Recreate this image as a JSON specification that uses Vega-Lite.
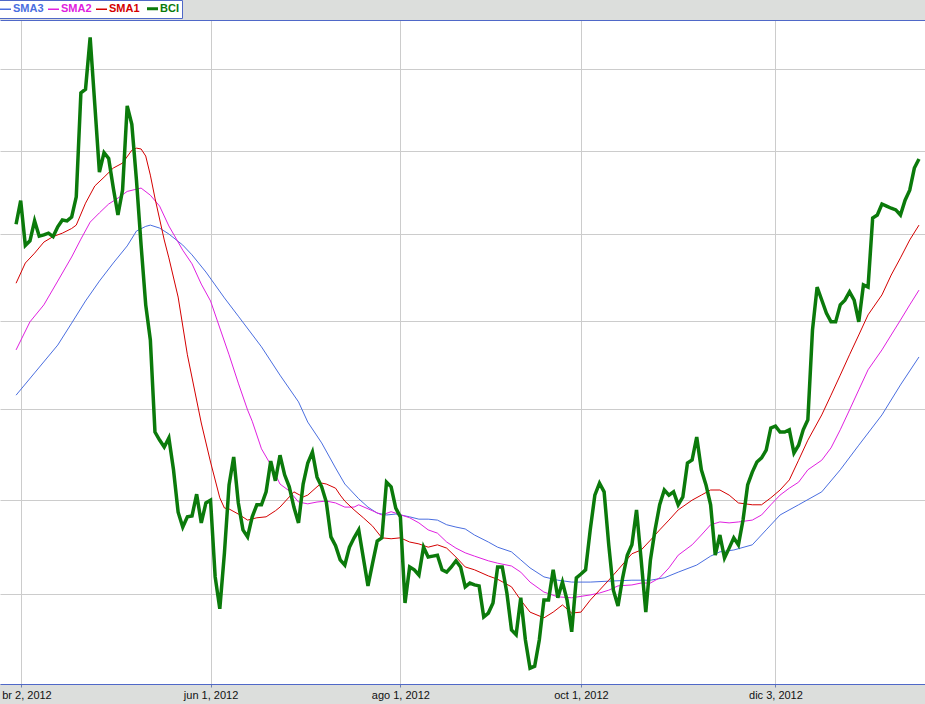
{
  "$schema": "https://vega.github.io/schema/vega-lite/v6.json",
  "width": 925,
  "height": 664,
  "autosize": {"type": "none"},
  "padding": {"left": 0, "right": 0, "top": 20, "bottom": 20},
  "background": "#dcdedc",
  "config": {"view": {"fill": "white", "stroke": null}},
  "data": {
    "values": [
      {"series":"SMA3","day":-1,"price":35155},{"series":"SMA3","day":3,"price":35405},{"series":"SMA3","day":8,"price":35720},{"series":"SMA3","day":11,"price":35970},{"series":"SMA3","day":14,"price":36225},{"series":"SMA3","day":17,"price":36455},{"series":"SMA3","day":20,"price":36665},{"series":"SMA3","day":23,"price":36865},{"series":"SMA3","day":25,"price":37040},{"series":"SMA3","day":27,"price":37095},{"series":"SMA3","day":28,"price":37110},{"series":"SMA3","day":30,"price":37075},{"series":"SMA3","day":32,"price":37005},{"series":"SMA3","day":35,"price":36875},{"series":"SMA3","day":37,"price":36760},{"series":"SMA3","day":40,"price":36560},{"series":"SMA3","day":42,"price":36410},{"series":"SMA3","day":44,"price":36260},{"series":"SMA3","day":47,"price":36050},{"series":"SMA3","day":52,"price":35700},{"series":"SMA3","day":56,"price":35380},{"series":"SMA3","day":60,"price":35080},{"series":"SMA3","day":62,"price":34855},{"series":"SMA3","day":65,"price":34625},{"series":"SMA3","day":68,"price":34350},{"series":"SMA3","day":70,"price":34175},{"series":"SMA3","day":73,"price":34015},{"series":"SMA3","day":75,"price":33925},{"series":"SMA3","day":77,"price":33860},{"series":"SMA3","day":79,"price":33840},{"series":"SMA3","day":81,"price":33850},{"series":"SMA3","day":84,"price":33820},{"series":"SMA3","day":86,"price":33795},{"series":"SMA3","day":88,"price":33795},{"series":"SMA3","day":90,"price":33785},{"series":"SMA3","day":92,"price":33735},{"series":"SMA3","day":94,"price":33710},{"series":"SMA3","day":96,"price":33690},{"series":"SMA3","day":98,"price":33625},{"series":"SMA3","day":101,"price":33550},{"series":"SMA3","day":103,"price":33495},{"series":"SMA3","day":106,"price":33445},{"series":"SMA3","day":108,"price":33360},{"series":"SMA3","day":110,"price":33275},{"series":"SMA3","day":113,"price":33180},{"series":"SMA3","day":116,"price":33145},{"series":"SMA3","day":119,"price":33125},{"series":"SMA3","day":123,"price":33125},{"series":"SMA3","day":127,"price":33135},{"series":"SMA3","day":132,"price":33145},{"series":"SMA3","day":136,"price":33145},{"series":"SMA3","day":139,"price":33170},{"series":"SMA3","day":142,"price":33230},{"series":"SMA3","day":146,"price":33305},{"series":"SMA3","day":149,"price":33400},{"series":"SMA3","day":151,"price":33445},{"series":"SMA3","day":154,"price":33465},{"series":"SMA3","day":158,"price":33520},{"series":"SMA3","day":161,"price":33680},{"series":"SMA3","day":164,"price":33840},{"series":"SMA3","day":168,"price":33950},{"series":"SMA3","day":173,"price":34090},{"series":"SMA3","day":177,"price":34330},{"series":"SMA3","day":181,"price":34600},{"series":"SMA3","day":186,"price":34935},{"series":"SMA3","day":190,"price":35270},{"series":"SMA3","day":194,"price":35585},

      {"series":"SMA2","day":-1,"price":35665},{"series":"SMA2","day":2,"price":35985},{"series":"SMA2","day":5,"price":36180},{"series":"SMA2","day":8,"price":36455},{"series":"SMA2","day":11,"price":36735},{"series":"SMA2","day":13,"price":36945},{"series":"SMA2","day":15,"price":37145},{"series":"SMA2","day":17,"price":37255},{"series":"SMA2","day":19,"price":37360},{"series":"SMA2","day":21,"price":37430},{"series":"SMA2","day":23,"price":37510},{"series":"SMA2","day":26,"price":37550},{"series":"SMA2","day":28,"price":37465},{"series":"SMA2","day":30,"price":37335},{"series":"SMA2","day":32,"price":37100},{"series":"SMA2","day":35,"price":36815},{"series":"SMA2","day":37,"price":36655},{"series":"SMA2","day":39,"price":36420},{"series":"SMA2","day":41,"price":36225},{"series":"SMA2","day":43,"price":35915},{"series":"SMA2","day":45,"price":35610},{"series":"SMA2","day":47,"price":35290},{"series":"SMA2","day":49,"price":34990},{"series":"SMA2","day":50,"price":34865},{"series":"SMA2","day":52,"price":34560},{"series":"SMA2","day":54,"price":34385},{"series":"SMA2","day":56,"price":34175},{"series":"SMA2","day":58,"price":34100},{"series":"SMA2","day":60,"price":33980},{"series":"SMA2","day":62,"price":33960},{"series":"SMA2","day":64,"price":33980},{"series":"SMA2","day":66,"price":33990},{"series":"SMA2","day":68,"price":33970},{"series":"SMA2","day":70,"price":33925},{"series":"SMA2","day":72,"price":33925},{"series":"SMA2","day":73,"price":33950},{"series":"SMA2","day":76,"price":33885},{"series":"SMA2","day":78,"price":33840},{"series":"SMA2","day":80,"price":33875},{"series":"SMA2","day":81,"price":33860},{"series":"SMA2","day":84,"price":33810},{"series":"SMA2","day":86,"price":33755},{"series":"SMA2","day":88,"price":33680},{"series":"SMA2","day":90,"price":33645},{"series":"SMA2","day":92,"price":33550},{"series":"SMA2","day":94,"price":33485},{"series":"SMA2","day":96,"price":33435},{"series":"SMA2","day":98,"price":33400},{"series":"SMA2","day":101,"price":33350},{"series":"SMA2","day":103,"price":33325},{"series":"SMA2","day":106,"price":33295},{"series":"SMA2","day":108,"price":33230},{"series":"SMA2","day":110,"price":33125},{"series":"SMA2","day":113,"price":33020},{"series":"SMA2","day":116,"price":32970},{"series":"SMA2","day":119,"price":32960},{"series":"SMA2","day":123,"price":32990},{"series":"SMA2","day":125,"price":33010},{"series":"SMA2","day":127,"price":33040},{"series":"SMA2","day":129,"price":33085},{"series":"SMA2","day":132,"price":33095},{"series":"SMA2","day":134,"price":33115},{"series":"SMA2","day":136,"price":33115},{"series":"SMA2","day":138,"price":33170},{"series":"SMA2","day":140,"price":33275},{"series":"SMA2","day":142,"price":33410},{"series":"SMA2","day":145,"price":33520},{"series":"SMA2","day":147,"price":33625},{"series":"SMA2","day":149,"price":33735},{"series":"SMA2","day":151,"price":33765},{"series":"SMA2","day":153,"price":33755},{"series":"SMA2","day":155,"price":33765},{"series":"SMA2","day":158,"price":33785},{"series":"SMA2","day":160,"price":33840},{"series":"SMA2","day":162,"price":33950},{"series":"SMA2","day":164,"price":34055},{"series":"SMA2","day":166,"price":34130},{"series":"SMA2","day":168,"price":34195},{"series":"SMA2","day":170,"price":34330},{"series":"SMA2","day":173,"price":34435},{"series":"SMA2","day":175,"price":34570},{"series":"SMA2","day":177,"price":34770},{"series":"SMA2","day":179,"price":34990},{"series":"SMA2","day":181,"price":35215},{"series":"SMA2","day":183,"price":35440},{"series":"SMA2","day":186,"price":35665},{"series":"SMA2","day":188,"price":35835},{"series":"SMA2","day":190,"price":36005},{"series":"SMA2","day":192,"price":36180},{"series":"SMA2","day":194,"price":36350},

      {"series":"SMA1","day":-1,"price":36430},{"series":"SMA1","day":1,"price":36665},{"series":"SMA1","day":3,"price":36780},{"series":"SMA1","day":5,"price":36910},{"series":"SMA1","day":7,"price":36975},{"series":"SMA1","day":9,"price":37015},{"series":"SMA1","day":11,"price":37070},{"series":"SMA1","day":12,"price":37110},{"series":"SMA1","day":14,"price":37370},{"series":"SMA1","day":16,"price":37575},{"series":"SMA1","day":18,"price":37680},{"series":"SMA1","day":20,"price":37790},{"series":"SMA1","day":22,"price":37850},{"series":"SMA1","day":24,"price":38005},{"series":"SMA1","day":25,"price":38030},{"series":"SMA1","day":26,"price":38020},{"series":"SMA1","day":27,"price":37935},{"series":"SMA1","day":28,"price":37705},{"series":"SMA1","day":29,"price":37430},{"series":"SMA1","day":31,"price":36935},{"series":"SMA1","day":32,"price":36725},{"series":"SMA1","day":34,"price":36270},{"series":"SMA1","day":36,"price":35610},{"series":"SMA1","day":39,"price":34845},{"series":"SMA1","day":41,"price":34415},{"series":"SMA1","day":43,"price":34025},{"series":"SMA1","day":44,"price":33915},{"series":"SMA1","day":45,"price":33905},{"series":"SMA1","day":47,"price":33850},{"series":"SMA1","day":49,"price":33785},{"series":"SMA1","day":51,"price":33810},{"series":"SMA1","day":53,"price":33820},{"series":"SMA1","day":55,"price":33885},{"series":"SMA1","day":56,"price":33925},{"series":"SMA1","day":58,"price":34035},{"series":"SMA1","day":59,"price":34090},{"series":"SMA1","day":61,"price":34035},{"series":"SMA1","day":62,"price":34055},{"series":"SMA1","day":64,"price":34145},{"series":"SMA1","day":65,"price":34185},{"series":"SMA1","day":66,"price":34175},{"series":"SMA1","day":68,"price":34130},{"series":"SMA1","day":69,"price":34055},{"series":"SMA1","day":70,"price":33990},{"series":"SMA1","day":72,"price":33895},{"series":"SMA1","day":74,"price":33810},{"series":"SMA1","day":76,"price":33720},{"series":"SMA1","day":78,"price":33595},{"series":"SMA1","day":80,"price":33585},{"series":"SMA1","day":82,"price":33595},{"series":"SMA1","day":84,"price":33550},{"series":"SMA1","day":86,"price":33530},{"series":"SMA1","day":88,"price":33495},{"series":"SMA1","day":90,"price":33520},{"series":"SMA1","day":92,"price":33485},{"series":"SMA1","day":94,"price":33390},{"series":"SMA1","day":96,"price":33285},{"series":"SMA1","day":98,"price":33255},{"series":"SMA1","day":101,"price":33190},{"series":"SMA1","day":103,"price":33155},{"series":"SMA1","day":106,"price":33075},{"series":"SMA1","day":108,"price":32935},{"series":"SMA1","day":110,"price":32810},{"series":"SMA1","day":113,"price":32750},{"series":"SMA1","day":115,"price":32810},{"series":"SMA1","day":117,"price":32885},{"series":"SMA1","day":119,"price":32800},{"series":"SMA1","day":121,"price":32810},{"series":"SMA1","day":123,"price":32935},{"series":"SMA1","day":125,"price":33040},{"series":"SMA1","day":127,"price":33145},{"series":"SMA1","day":129,"price":33255},{"series":"SMA1","day":132,"price":33425},{"series":"SMA1","day":134,"price":33465},{"series":"SMA1","day":136,"price":33570},{"series":"SMA1","day":138,"price":33680},{"series":"SMA1","day":140,"price":33785},{"series":"SMA1","day":142,"price":33895},{"series":"SMA1","day":145,"price":34000},{"series":"SMA1","day":147,"price":34055},{"series":"SMA1","day":149,"price":34110},{"series":"SMA1","day":151,"price":34110},{"series":"SMA1","day":153,"price":34055},{"series":"SMA1","day":155,"price":33970},{"series":"SMA1","day":158,"price":33950},{"series":"SMA1","day":160,"price":33950},{"series":"SMA1","day":162,"price":34025},{"series":"SMA1","day":164,"price":34110},{"series":"SMA1","day":166,"price":34220},{"series":"SMA1","day":168,"price":34435},{"series":"SMA1","day":170,"price":34655},{"series":"SMA1","day":173,"price":34935},{"series":"SMA1","day":175,"price":35155},{"series":"SMA1","day":177,"price":35380},{"series":"SMA1","day":179,"price":35610},{"series":"SMA1","day":181,"price":35835},{"series":"SMA1","day":183,"price":36065},{"series":"SMA1","day":186,"price":36295},{"series":"SMA1","day":188,"price":36525},{"series":"SMA1","day":190,"price":36725},{"series":"SMA1","day":192,"price":36935},{"series":"SMA1","day":194,"price":37110},

      {"series":"BCI","day":-1,"price":37120},{"series":"BCI","day":0,"price":37400},{"series":"BCI","day":1,"price":36870},{"series":"BCI","day":2,"price":36925},{"series":"BCI","day":3,"price":37160},{"series":"BCI","day":4,"price":36980},{"series":"BCI","day":5,"price":36995},{"series":"BCI","day":6,"price":37015},{"series":"BCI","day":7,"price":36975},{"series":"BCI","day":8,"price":37090},{"series":"BCI","day":9,"price":37170},{"series":"BCI","day":10,"price":37160},{"series":"BCI","day":11,"price":37205},{"series":"BCI","day":12,"price":37445},{"series":"BCI","day":13,"price":38705},{"series":"BCI","day":14,"price":38750},{"series":"BCI","day":15,"price":39395},{"series":"BCI","day":16,"price":38565},{"series":"BCI","day":17,"price":37740},{"series":"BCI","day":18,"price":37975},{"series":"BCI","day":19,"price":37905},{"series":"BCI","day":20,"price":37550},{"series":"BCI","day":21,"price":37230},{"series":"BCI","day":22,"price":37525},{"series":"BCI","day":23,"price":38545},{"series":"BCI","day":24,"price":38320},{"series":"BCI","day":25,"price":37646},{"series":"BCI","day":26,"price":36875},{"series":"BCI","day":27,"price":36180},{"series":"BCI","day":28,"price":35778},{"series":"BCI","day":29,"price":34745},{"series":"BCI","day":30,"price":34657},{"series":"BCI","day":31,"price":34580},{"series":"BCI","day":32,"price":34680},{"series":"BCI","day":33,"price":34330},{"series":"BCI","day":34,"price":33870},{"series":"BCI","day":35,"price":33710},{"series":"BCI","day":36,"price":33820},{"series":"BCI","day":37,"price":33830},{"series":"BCI","day":38,"price":34065},{"series":"BCI","day":39,"price":33755},{"series":"BCI","day":40,"price":33970},{"series":"BCI","day":41,"price":34000},{"series":"BCI","day":42,"price":33180},{"series":"BCI","day":43,"price":32845},{"series":"BCI","day":44,"price":33435},{"series":"BCI","day":45,"price":34165},{"series":"BCI","day":46,"price":34470},{"series":"BCI","day":47,"price":33970},{"series":"BCI","day":48,"price":33680},{"series":"BCI","day":49,"price":33605},{"series":"BCI","day":50,"price":33820},{"series":"BCI","day":51,"price":33950},{"series":"BCI","day":52,"price":33950},{"series":"BCI","day":53,"price":34090},{"series":"BCI","day":54,"price":34425},{"series":"BCI","day":55,"price":34210},{"series":"BCI","day":56,"price":34490},{"series":"BCI","day":57,"price":34275},{"series":"BCI","day":58,"price":34145},{"series":"BCI","day":59,"price":33925},{"series":"BCI","day":60,"price":33755},{"series":"BCI","day":61,"price":34175},{"series":"BCI","day":62,"price":34405},{"series":"BCI","day":63,"price":34525},{"series":"BCI","day":64,"price":34250},{"series":"BCI","day":65,"price":34145},{"series":"BCI","day":66,"price":33980},{"series":"BCI","day":67,"price":33605},{"series":"BCI","day":68,"price":33510},{"series":"BCI","day":69,"price":33360},{"series":"BCI","day":70,"price":33305},{"series":"BCI","day":71,"price":33495},{"series":"BCI","day":72,"price":33595},{"series":"BCI","day":73,"price":33680},{"series":"BCI","day":74,"price":33380},{"series":"BCI","day":75,"price":33085},{"series":"BCI","day":76,"price":33325},{"series":"BCI","day":77,"price":33560},{"series":"BCI","day":78,"price":33595},{"series":"BCI","day":79,"price":34195},{"series":"BCI","day":80,"price":34145},{"series":"BCI","day":81,"price":33915},{"series":"BCI","day":82,"price":33820},{"series":"BCI","day":83,"price":32905},{"series":"BCI","day":84,"price":33285},{"series":"BCI","day":85,"price":33255},{"series":"BCI","day":86,"price":33200},{"series":"BCI","day":87,"price":33495},{"series":"BCI","day":88,"price":33390},{"series":"BCI","day":89,"price":33400},{"series":"BCI","day":90,"price":33410},{"series":"BCI","day":91,"price":33255},{"series":"BCI","day":92,"price":33230},{"series":"BCI","day":93,"price":33285},{"series":"BCI","day":94,"price":33350},{"series":"BCI","day":95,"price":33285},{"series":"BCI","day":96,"price":33075},{"series":"BCI","day":97,"price":33115},{"series":"BCI","day":98,"price":33095},{"series":"BCI","day":99,"price":33085},{"series":"BCI","day":100,"price":32760},{"series":"BCI","day":101,"price":32800},{"series":"BCI","day":102,"price":32905},{"series":"BCI","day":103,"price":33285},{"series":"BCI","day":104,"price":33285},{"series":"BCI","day":105,"price":33010},{"series":"BCI","day":106,"price":32625},{"series":"BCI","day":107,"price":32575},{"series":"BCI","day":108,"price":32960},{"series":"BCI","day":109,"price":32521},{"series":"BCI","day":110,"price":32230},{"series":"BCI","day":111,"price":32250},{"series":"BCI","day":112,"price":32520},{"series":"BCI","day":113,"price":32937},{"series":"BCI","day":114,"price":32937},{"series":"BCI","day":115,"price":33255},{"series":"BCI","day":116,"price":32960},{"series":"BCI","day":117,"price":33125},{"series":"BCI","day":118,"price":32937},{"series":"BCI","day":119,"price":32605},{"series":"BCI","day":120,"price":33170},{"series":"BCI","day":121,"price":33210},{"series":"BCI","day":122,"price":33255},{"series":"BCI","day":123,"price":33680},{"series":"BCI","day":124,"price":34055},{"series":"BCI","day":125,"price":34185},{"series":"BCI","day":126,"price":34090},{"series":"BCI","day":127,"price":33520},{"series":"BCI","day":128,"price":33040},{"series":"BCI","day":129,"price":32875},{"series":"BCI","day":130,"price":33170},{"series":"BCI","day":131,"price":33410},{"series":"BCI","day":132,"price":33520},{"series":"BCI","day":133,"price":33895},{"series":"BCI","day":134,"price":33360},{"series":"BCI","day":135,"price":32810},{"series":"BCI","day":136,"price":33360},{"series":"BCI","day":137,"price":33680},{"series":"BCI","day":138,"price":33950},{"series":"BCI","day":139,"price":34110},{"series":"BCI","day":140,"price":34055},{"series":"BCI","day":141,"price":34090},{"series":"BCI","day":142,"price":33950},{"series":"BCI","day":143,"price":34035},{"series":"BCI","day":144,"price":34405},{"series":"BCI","day":145,"price":34437},{"series":"BCI","day":146,"price":34690},{"series":"BCI","day":147,"price":34330},{"series":"BCI","day":148,"price":34165},{"series":"BCI","day":149,"price":33950},{"series":"BCI","day":150,"price":33410},{"series":"BCI","day":151,"price":33625},{"series":"BCI","day":152,"price":33380},{"series":"BCI","day":153,"price":33485},{"series":"BCI","day":154,"price":33595},{"series":"BCI","day":155,"price":33520},{"series":"BCI","day":156,"price":33786},{"series":"BCI","day":157,"price":34165},{"series":"BCI","day":158,"price":34305},{"series":"BCI","day":159,"price":34415},{"series":"BCI","day":160,"price":34460},{"series":"BCI","day":161,"price":34545},{"series":"BCI","day":162,"price":34790},{"series":"BCI","day":163,"price":34810},{"series":"BCI","day":164,"price":34745},{"series":"BCI","day":165,"price":34745},{"series":"BCI","day":166,"price":34770},{"series":"BCI","day":167,"price":34515},{"series":"BCI","day":168,"price":34600},{"series":"BCI","day":169,"price":34770},{"series":"BCI","day":170,"price":34880},{"series":"BCI","day":171,"price":35890},{"series":"BCI","day":172,"price":36385},{"series":"BCI","day":173,"price":36236},{"series":"BCI","day":174,"price":36085},{"series":"BCI","day":175,"price":35985},{"series":"BCI","day":176,"price":35985},{"series":"BCI","day":177,"price":36180},{"series":"BCI","day":178,"price":36235},{"series":"BCI","day":179,"price":36330},{"series":"BCI","day":180,"price":36235},{"series":"BCI","day":181,"price":35985},{"series":"BCI","day":182,"price":36410},{"series":"BCI","day":183,"price":36385},{"series":"BCI","day":184,"price":37195},{"series":"BCI","day":185,"price":37230},{"series":"BCI","day":186,"price":37360},{"series":"BCI","day":187,"price":37335},{"series":"BCI","day":188,"price":37310},{"series":"BCI","day":189,"price":37290},{"series":"BCI","day":190,"price":37230},{"series":"BCI","day":191,"price":37405},{"series":"BCI","day":192,"price":37525},{"series":"BCI","day":193,"price":37790},{"series":"BCI","day":194,"price":37900}
    ]
  },
  "resolve": {"axis": {"x": "independent", "y": "independent"}},
  "layer": [
    {
      "mark": {"type": "line", "clip": true},
      "encoding": {
        "x": {
          "field": "day", "type": "quantitative",
          "scale": {"domain": [-4.47, 195.3], "nice": false, "zero": false},
          "axis": {
            "title": null, "values": [0, 41, 82, 121, 163],
            "labelExpr": "datum.value == 0 ? 'br 2, 2012' : datum.value == 41 ? 'jun 1, 2012' : datum.value == 82 ? 'ago 1, 2012' : datum.value == 121 ? 'oct 1, 2012' : 'dic 3, 2012'",
            "labelAlign": {"condition": {"test": "datum.value == 0", "value": "left"}, "value": "center"},
            "labelOffset": {"condition": {"test": "datum.value == 0", "value": -19}, "value": 0},
            "grid": true, "gridColor": "#cccccc", "gridWidth": 1,
            "domainColor": "#4f68c8", "domainWidth": 1,
            "tickColor": "#6f7fb0", "tickSize": 3,
            "labelFont": "Liberation Sans", "labelFontSize": 11, "labelColor": "#111111",
            "labelPadding": 2, "labelFlush": false, "labelOverlap": false, "labelBound": false
          }
        },
        "y": {
          "field": "price", "type": "quantitative",
          "scale": {"type": "log", "domain": [32068, 39613], "nice": false, "zero": false},
          "axis": {
            "title": null, "values": [33000, 34000, 35000, 36000, 37000, 38000, 39000],
            "grid": true, "gridColor": "#cccccc", "gridWidth": 1, "labels": false, "ticks": false, "domain": false
          }
        },
        "color": {
          "field": "series", "type": "nominal",
          "scale": {"domain": ["SMA3", "SMA2", "SMA1", "BCI"], "range": ["#4a6ee0", "#e020e0", "#d40000", "#0b7a0b"]},
          "legend": {
            "orient": "none", "legendX": -3, "legendY": -20, "direction": "horizontal",
            "title": null, "symbolType": "stroke", "symbolSize": 121, "symbolStrokeWidth": 1.5,
            "labelFont": "Liberation Sans", "labelFontWeight": "bold", "labelFontSize": 11,
            "labelOffset": 2, "columnPadding": 1, "padding": 3, "labelLimit": 0,
            "fillColor": "white", "strokeColor": "#4f68c8",
            "encode": {
              "labels": {"update": {"fill": {"scale": "color", "field": "value"}}},
              "symbols": {"update": {"strokeWidth": {"signal": "datum.value === 'BCI' ? 3 : 1.5"}}}
            }
          }
        },
        "strokeWidth": {"condition": {"test": "datum.series === 'BCI'", "value": 3.5}, "value": 1}
      }
    },
    {
      "transform": [{"filter": "datum.series === 'BCI'"}],
      "mark": {"type": "point", "opacity": 0},
      "encoding": {
        "x": {
          "field": "day", "type": "quantitative",
          "axis": {"orient": "top", "title": null, "labels": false, "ticks": false, "grid": false, "domainColor": "#4f68c8", "domainWidth": 1}
        },
        "y": {"field": "price", "type": "quantitative", "axis": null}
      }
    }
  ]
}
